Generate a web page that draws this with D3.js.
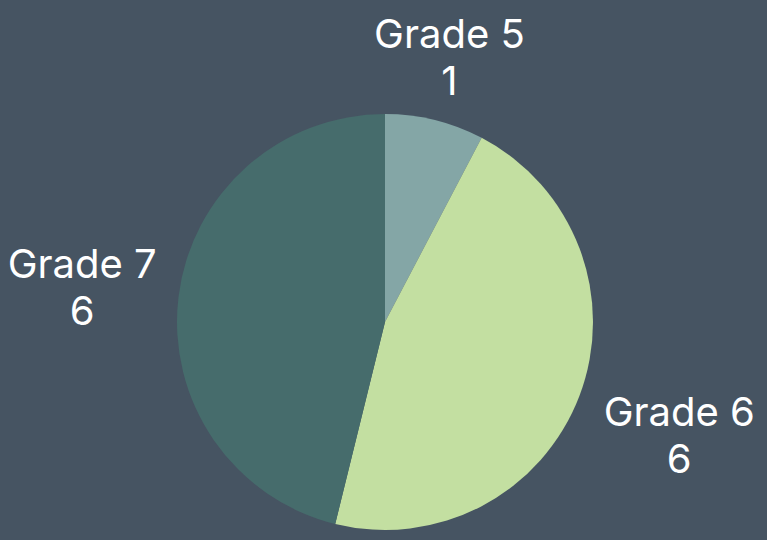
<!DOCTYPE html>
<html>
<head>
<meta charset="utf-8">
<script src="https://cdn.jsdelivr.net/npm/d3@7"></script>
<style>
  html, body { margin: 0; padding: 0; background: #465462; }
  svg { display: block; }
</style>
</head>
<body>
<div id="container"></div>
<script>
/* CONSTANTS AND GLOBALS */
const width = 767;
const height = 540;
const cx = 385, cy = 322, radius = 208;

/* DATA */
const grades = ["Grade 5", "Grade 6", "Grade 7"];
const counts = [1, 6, 6];
const colors = ["#84A6A6", "#C3DFA1", "#466C6C"];

const data = grades.map((g, i) => ({ grade: g, count: counts[i] }));

/* SCALES */
const colorScale = d3.scaleOrdinal().domain(grades).range(colors);

const pie = d3.pie().sort(null).value(d => d.count);
const arc = d3.arc().innerRadius(0).outerRadius(radius);

/* HTML ELEMENTS */
const svg = d3.select("#container")
    .append("svg")
    .attr("width", width)
    .attr("height", height);

const g = svg.append("g")
    .attr("transform", `translate(${cx}, ${cy})`);

const arcs = pie(data);

g.selectAll("path")
    .data(arcs)
    .join("path")
    .attr("d", arc)
    .attr("fill", d => colorScale(d.data.grade));

// Labels outside the pie, on each slice's middle angle
const labelR = 236;
const lineH = 47;

g.selectAll("text.label")
    .data(arcs)
    .join("text")
    .attr("class", "label")
    .attr("fill", "white")
    .style("font-family", "Inter, 'DejaVu Sans', sans-serif")
    .style("font-size", "40px")
    .each(function(d) {
      const a = (d.startAngle + d.endAngle) / 2;
      const s = Math.sin(a), c = Math.cos(a);
      const x = s * labelR, y = -c * labelR;
      const side = Math.abs(s) >= 0.5;
      const anchor = !side ? "middle" : (s > 0 ? "start" : "end");
      // vertical centre of the two-line block
      const yc = side ? y - c * lineH * 1.6 + 3 : y - c * lineH * 0.9 + 6;
      const x0 = !side ? x + 8 : (s > 0 ? x - 2 : x + 6);
      const t = d3.select(this).attr("text-anchor", anchor);
      const first = t.append("tspan")
          .attr("x", x0)
          .attr("y", yc - lineH / 2 + 14)
          .text(d.data.grade);
      const w = first.node().getComputedTextLength();
      const mid = anchor === "middle" ? x0 : anchor === "start" ? x0 + w / 2 : x0 - w / 2;
      t.append("tspan")
          .attr("x", mid)
          .attr("text-anchor", "middle")
          .attr("y", yc + lineH / 2 + 14)
          .text(d.data.count);
    });
</script>
</body>
</html>
